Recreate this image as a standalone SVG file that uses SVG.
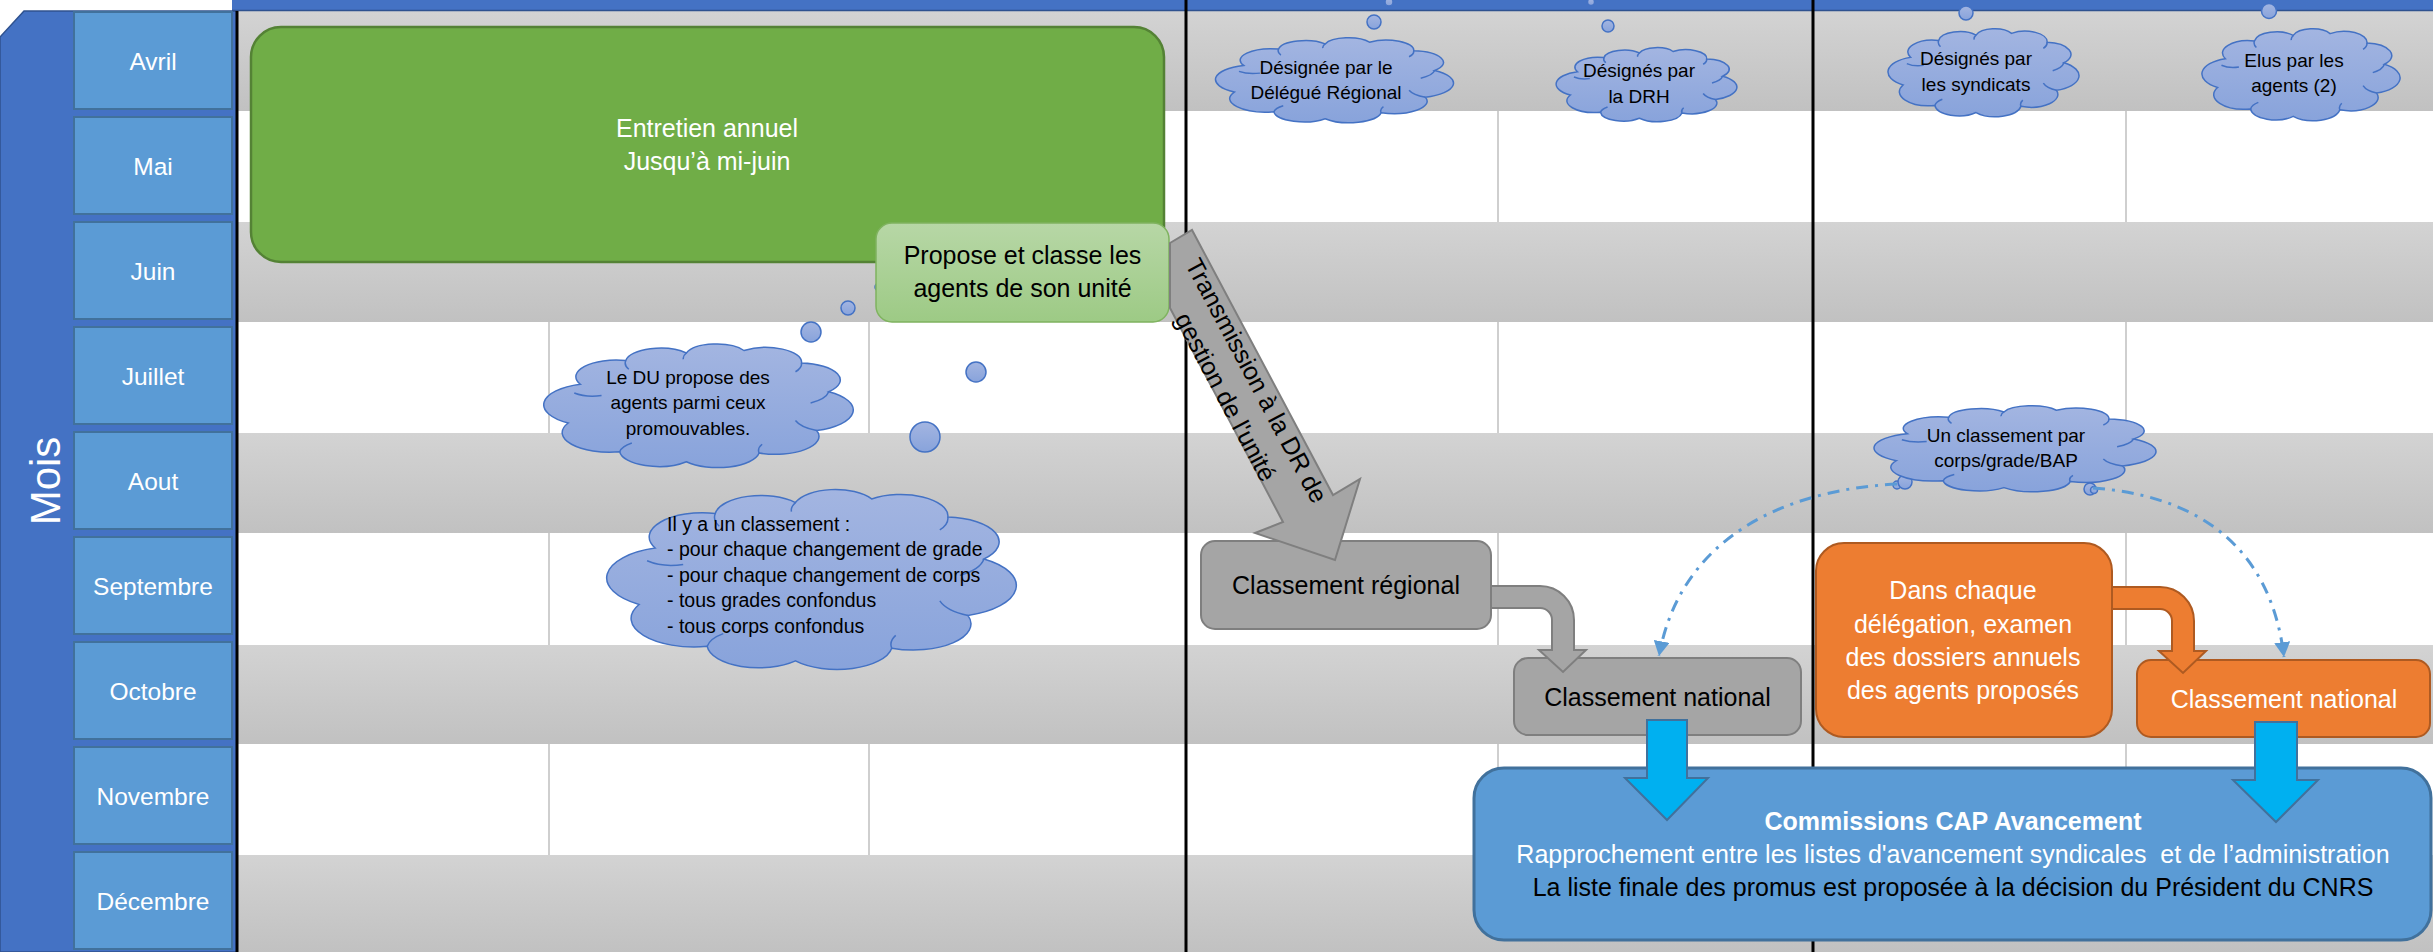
<svg xmlns="http://www.w3.org/2000/svg" xmlns:xlink="http://www.w3.org/1999/xlink" width="2433" height="952" viewBox="0 0 2433 952">
<defs>
  <linearGradient id="gBand" x1="0" y1="0" x2="0" y2="1"><stop offset="0" stop-color="#d3d3d3"/><stop offset="1" stop-color="#c1c1c1"/></linearGradient>
  <linearGradient id="gCloud" x1="0" y1="0" x2="0" y2="1"><stop offset="0" stop-color="#a3b5e1"/><stop offset="1" stop-color="#88a3db"/></linearGradient>
  <linearGradient id="gLight" x1="0" y1="0" x2="0" y2="1"><stop offset="0" stop-color="#b7d7a6"/><stop offset="1" stop-color="#9dca85"/></linearGradient>
  <g id="cloud">
    <path vector-effect="non-scaling-stroke" d="M7,64 A17.2,17.2 0 0 1 11,33 A13.3,13.3 0 0 1 26,14 A11.5,11.5 0 0 1 46,8 A10.5,10.5 0 0 1 65,6 A11.8,11.8 0 0 1 84,16 A13.6,13.6 0 0 1 93,39 A17.2,17.2 0 0 1 89,70 A14.4,14.4 0 0 1 70,88 A13.8,13.8 0 0 1 46,95 A12.9,12.9 0 0 1 24,87 A15.7,15.7 0 0 1 7,64 Z"/>
    <path vector-effect="non-scaling-stroke" fill="none" d="M9,40 A9,9 0 0 0 18,42 M26,14 A11,11 0 0 0 27,21 M46,8 A9,9 0 0 0 45,13 M84,16 A11,11 0 0 1 82,23 M93,39 A13,13 0 0 1 87,48 M89,70 A13,13 0 0 1 82,62 M70,88 A11,11 0 0 1 71,81 M24,87 A11,11 0 0 1 28,80"/>
  </g>
  <marker id="mBlue" markerUnits="userSpaceOnUse" markerWidth="16" markerHeight="16" refX="13" refY="7" orient="auto" viewBox="0 0 14 14">
    <path d="M0,0 L13,7 L0,14 Z" fill="#5b9bd5"/>
  </marker>
</defs>
<style>
  .band{fill:url(#gBand)}
  .vline{stroke:#bfbfbf;stroke-width:1.5}
  .bline{stroke:#000;stroke-width:3}
  .month{fill:#5b9bd5;stroke:#41719c;stroke-width:2}
  .mt{font-family:'Liberation Sans',Arial,sans-serif;font-size:24.5px;fill:#fff;text-anchor:middle}
  .cloud{fill:url(#gCloud);stroke:#4472c4;stroke-width:1.5}
  .bub{fill:url(#gCloud);stroke:#4472c4;stroke-width:1.5}
  .ct{font-family:'Liberation Sans',Arial,sans-serif;font-size:19px;fill:#000;text-anchor:middle}
  .ctl{font-family:'Liberation Sans',Arial,sans-serif;font-size:19.5px;fill:#000}
  .gbox{fill:#a5a5a5;stroke:#7f7f7f;stroke-width:2}
  .obox{fill:#ed7d31;stroke:#ae5a21;stroke-width:2}
  .t25{font-family:'Liberation Sans',Arial,sans-serif;font-size:25px;text-anchor:middle}
  .blk{fill:#000}
  .wht{fill:#fff}
  .cyan{fill:#00b0f0;stroke:#41719c;stroke-width:2}
  .dd{fill:none;stroke:#5b9bd5;stroke-width:3;stroke-dasharray:12 7 3 7;marker-end:url(#mBlue)}
</style>

<g id="background">
  <rect x="0" y="0" width="2433" height="952" fill="#fff"/>
  <line class="vline" x1="549" y1="11" x2="549" y2="952"/>
  <line class="vline" x1="869" y1="11" x2="869" y2="952"/>
  <line class="vline" x1="1498" y1="11" x2="1498" y2="952"/>
  <line class="vline" x1="2126" y1="11" x2="2126" y2="952"/>
  <rect class="band" x="237" y="11" width="2196" height="100"/>
  <rect class="band" x="237" y="222" width="2196" height="100"/>
  <rect class="band" x="237" y="433" width="2196" height="100"/>
  <rect class="band" x="237" y="645" width="2196" height="99"/>
  <rect class="band" x="237" y="855" width="2196" height="97"/>
  <rect x="232" y="0" width="2201" height="11" fill="#4472c4"/>
  <line x1="232" y1="10.5" x2="2433" y2="10.5" stroke="#2f528f" stroke-width="1.5"/>
  <line class="bline" x1="1186" y1="0" x2="1186" y2="952"/>
  <line class="bline" x1="1813" y1="0" x2="1813" y2="952"/>
</g>

<g id="month-panel">
  <path d="M24,11 H237 V952 H0 V37 Z" fill="#4472c4" stroke="#2f528f" stroke-width="1.5"/>
  <text transform="translate(60,481) rotate(-90)" font-family="'Liberation Sans',Arial,sans-serif" font-size="42" fill="#fff" text-anchor="middle">Mois</text>
  <line class="bline" x1="237" y1="11" x2="237" y2="952"/>
</g>
<g id="m-avril"><rect class="month" x="74" y="12" width="158" height="97"/><text class="mt" x="153" y="70">Avril</text></g>
<g id="m-mai"><rect class="month" x="74" y="117" width="158" height="97"/><text class="mt" x="153" y="175">Mai</text></g>
<g id="m-juin"><rect class="month" x="74" y="222" width="158" height="97"/><text class="mt" x="153" y="280">Juin</text></g>
<g id="m-juillet"><rect class="month" x="74" y="327" width="158" height="97"/><text class="mt" x="153" y="385">Juillet</text></g>
<g id="m-aout"><rect class="month" x="74" y="432" width="158" height="97"/><text class="mt" x="153" y="490">Aout</text></g>
<g id="m-septembre"><rect class="month" x="74" y="537" width="158" height="97"/><text class="mt" x="153" y="595">Septembre</text></g>
<g id="m-octobre"><rect class="month" x="74" y="642" width="158" height="97"/><text class="mt" x="153" y="700">Octobre</text></g>
<g id="m-novembre"><rect class="month" x="74" y="747" width="158" height="97"/><text class="mt" x="153" y="805">Novembre</text></g>
<g id="m-decembre"><rect class="month" x="74" y="852" width="158" height="97"/><text class="mt" x="153" y="910">Décembre</text></g>

<g id="entretien">
  <rect x="251" y="27" width="913" height="235" rx="30" fill="#70ad47" stroke="#548235" stroke-width="2.5"/>
  <text class="t25 wht" x="707" y="137" font-size="25.5">Entretien annuel</text>
  <text class="t25 wht" x="707" y="170" font-size="25.5">Jusqu’à mi-juin</text>
</g>

<g id="cloud-du">
  <circle class="bub" cx="811" cy="332" r="10"/>
  <circle class="bub" cx="848" cy="308" r="7"/>
  <circle class="bub" cx="879" cy="287" r="4"/>
  <use xlink:href="#cloud" class="cloud" transform="translate(547,343) scale(3.03,1.25)"/>
  <text class="ct" x="688" y="384" font-size="19.5">Le DU propose des</text>
  <text class="ct" x="688" y="409" font-size="19.5">agents parmi ceux</text>
  <text class="ct" x="688" y="435" font-size="19.5">promouvables.</text>
</g>

<g id="cloud-classement">
  <circle class="bub" cx="925" cy="437" r="15"/>
  <circle class="bub" cx="976" cy="372" r="10"/>
  <circle class="bub" cx="1021" cy="316" r="5"/>
  <use xlink:href="#cloud" class="cloud" transform="translate(611,488) scale(4.01,1.82)"/>
  <text class="ctl" x="667" y="531">Il y a un classement :</text>
  <text class="ctl" x="667" y="556">- pour chaque changement de grade</text>
  <text class="ctl" x="667" y="582">- pour chaque changement de corps</text>
  <text class="ctl" x="667" y="607">- tous grades confondus</text>
  <text class="ctl" x="667" y="633">- tous corps confondus</text>
</g>

<g id="cloud-delegue">
  <circle class="bub" cx="1389" cy="2" r="4"/>
  <circle class="bub" cx="1374" cy="22" r="7"/>
  <use xlink:href="#cloud" class="cloud" transform="translate(1218,37) scale(2.33,0.86)"/>
  <text class="ct" x="1326" y="74">Désignée par le</text>
  <text class="ct" x="1326" y="99">Délégué Régional</text>
</g>

<g id="cloud-drh">
  <circle class="bub" cx="1591" cy="2" r="3.5"/>
  <circle class="bub" cx="1608" cy="26" r="6"/>
  <use xlink:href="#cloud" class="cloud" transform="translate(1558,47) scale(1.77,0.75)"/>
  <text class="ct" x="1639" y="77">Désignés par</text>
  <text class="ct" x="1639" y="103">la DRH</text>
</g>

<g id="cloud-syndicats">
  <circle class="bub" cx="1966" cy="13" r="7"/>
  <use xlink:href="#cloud" class="cloud" transform="translate(1890,28) scale(1.87,0.89)"/>
  <text class="ct" x="1976" y="65">Désignés par</text>
  <text class="ct" x="1976" y="91">les syndicats</text>
</g>

<g id="cloud-elus">
  <circle class="bub" cx="2269" cy="11" r="7.5"/>
  <use xlink:href="#cloud" class="cloud" transform="translate(2204,28) scale(1.94,0.93)"/>
  <text class="ct" x="2294" y="67">Elus par les</text>
  <text class="ct" x="2294" y="92">agents (2)</text>
</g>

<g id="cloud-bap">
  <circle class="bub" cx="1897" cy="485" r="4"/>
  <circle class="bub" cx="1905" cy="482" r="7"/>
  <circle class="bub" cx="2090" cy="489" r="6"/>
  <circle class="bub" cx="2094" cy="490" r="3.5"/>
  <use xlink:href="#cloud" class="cloud" transform="translate(1877,405) scale(2.76,0.87)"/>
  <text class="ct" x="2006" y="442">Un classement par</text>
  <text class="ct" x="2006" y="467">corps/grade/BAP</text>
</g>

<g id="propose">
  <rect x="876" y="223" width="293" height="99" rx="16" fill="url(#gLight)" stroke="#7fb35f" stroke-width="1.5"/>
  <text class="t25 blk" x="1022.5" y="264" font-size="24.5">Propose et classe les</text>
  <text class="t25 blk" x="1022.5" y="297" font-size="24.5">agents de son unité</text>
</g>

<g id="classement-regional">
  <rect class="gbox" x="1201" y="541" width="290" height="88" rx="14"/>
  <text class="t25 blk" x="1346" y="594">Classement régional</text>
</g>

<g id="classement-national-1">
  <rect class="gbox" x="1514" y="658" width="287" height="77" rx="14"/>
  <text class="t25 blk" x="1657.5" y="706">Classement national</text>
</g>

<g id="delegation">
  <rect class="obox" x="1816" y="543" width="296" height="194" rx="28"/>
  <text class="t25 wht" x="1963" y="599">Dans chaque</text>
  <text class="t25 wht" x="1963" y="633">délégation, examen</text>
  <text class="t25 wht" x="1963" y="666">des dossiers annuels</text>
  <text class="t25 wht" x="1963" y="699">des agents proposés</text>
</g>

<g id="classement-national-2">
  <rect class="obox" x="2137" y="660" width="293" height="77" rx="14"/>
  <text class="t25 wht" x="2284" y="708">Classement national</text>
</g>

<g id="cap">
  <rect x="1474" y="768" width="957" height="172" rx="30" fill="#5b9bd5" stroke="#41719c" stroke-width="3"/>
  <text class="t25 wht" x="1953" y="830" font-size="24" font-weight="bold">Commissions CAP Avancement</text>
  <text class="t25 wht" x="1953" y="863" font-size="25.5">Rapprochement entre les listes d'avancement syndicales&#160; et de l’administration</text>
  <text class="t25 blk" x="1953" y="896">La liste finale des promus est proposée à la décision du Président du CNRS</text>
</g>

<g id="connectors">
  <polygon points="1170,243 1192,230 1333,495 1360,479 1335,560 1255,533 1283,522 1170,308" fill="#a5a5a5" stroke="#7f7f7f" stroke-width="2" stroke-linejoin="miter"/>
  <g transform="translate(1243.6,387.4) rotate(62)" font-family="'Liberation Sans',Arial,sans-serif" font-size="25" fill="#000" text-anchor="middle">
    <text x="0" y="-6">Transmission à la DR de</text>
    <text x="0" y="29">gestion de l'unité</text>
  </g>
  <path class="gbox" d="M1491,586 H1540 A34,34 0 0 1 1574,620 V650 H1586 L1563,672 L1539,650 H1552 V620 A12,12 0 0 0 1540,608 H1491 Z"/>
  <path class="obox" d="M2112,587 H2160 A34,34 0 0 1 2194,621 V651 H2206 L2183,673 L2159,651 H2172 V621 A12,12 0 0 0 2160,609 H2112 Z"/>
  <path class="cyan" d="M1647,720 H1687 V778 H1708 L1667,820 L1625,778 H1647 Z"/>
  <path class="cyan" d="M2255,722 H2297 V780 H2318 L2276,822 L2233,780 H2255 Z"/>
  <path class="dd" d="M1897,484 C1780,490 1680,540 1659,656"/>
  <path class="dd" d="M2093,488 C2190,495 2270,540 2284,657"/>
</g>
</svg>
